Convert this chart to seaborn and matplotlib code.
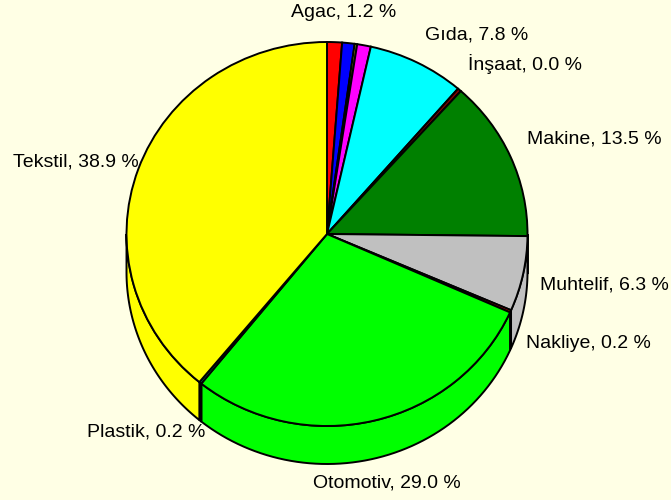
#!/usr/bin/env python3
# -*- coding: utf-8 -*-
import numpy as np
import matplotlib
matplotlib.use('Agg')
import matplotlib.pyplot as plt
import seaborn as sns

# slices clockwise from 12 o'clock, some have no label in the picture
sectors = ['Agac', 'a', 'b', 'c', 'Gıda', 'İnşaat', 'Makine', 'Muhtelif',
           'Nakliye', 'Otomotiv', 'Plastik', 'Tekstil']
shares = [1.2, 1.0, 0.2, 1.1, 7.8, 0.3, 13.5, 6.3, 0.2, 29.0, 0.2, 38.9]
colors = ['#ff0000', '#0000ff', '#b0b000', '#ff00ff', '#00ffff', '#800000',
          '#008000', '#c0c0c0', '#ff0000', '#00ff00', '#008080', '#ffff00']
label_texts = ['Agac, 1.2 %', 'Gıda, 7.8 %', 'İnşaat, 0.0 %', 'Makine, 13.5 %',
               'Muhtelif, 6.3 %', 'Nakliye, 0.2 %', 'Otomotiv, 29.0 %',
               'Plastik, 0.2 %', 'Tekstil, 38.9 %']
# label left edge / vertical middle in pixels of the 671x500 picture
label_px = [(291, 12.5), (425, 34.5), (468, 63.5), (527, 139), (540, 285), (526, 344),
            (313, 483), (87, 432), (13, 162)]

W, H = 671, 500
CX, CY = 327, 234
RX, RY = 200.5, 192
DEPTH = 38 / RY
BG = '#ffffe5'

sns.set_theme(style='white')
plt.rcParams['font.family'] = ['Liberation Sans', 'DejaVu Sans']

fig = plt.figure(figsize=(W / 100, H / 100), dpi=100, facecolor=BG)
ax = fig.add_axes([0, 0, 1, 1])
palette = sns.color_palette(colors)

# top of the pie
wedges, _ = ax.pie(shares, colors=palette, startangle=90, counterclock=False,
                   wedgeprops={'edgecolor': 'black', 'linewidth': 1.4, 'zorder': 3})

# side wall, only the part of each slice on the front half
for w, c in zip(wedges, palette):
    a0, a1 = w.theta1 % 360, w.theta2 % 360
    if a1 <= a0:
        a1 += 360
    lo, hi = max(a0, 180), min(a1, 360)
    if hi <= lo:
        continue
    t = np.radians(np.linspace(lo, hi, 60))
    xs = np.r_[np.cos(t), np.cos(t[::-1])]
    ys = np.r_[np.sin(t), np.sin(t[::-1]) - DEPTH]
    ax.fill(xs, ys, facecolor=c, edgecolor='black', linewidth=1.4, zorder=2)

ax.set_aspect('auto')
ax.set_xlim(-CX / RX, (W - CX) / RX)
ax.set_ylim(-(H - CY) / RY, CY / RY)
ax.set_axis_off()

for txt, (px, py) in zip(label_texts, label_px):
    fig.text(px / W, 1 - py / H, txt, ha='left', va='center',
             fontsize=14, color='black')

fig.savefig('out.png', dpi=100, facecolor=BG)
